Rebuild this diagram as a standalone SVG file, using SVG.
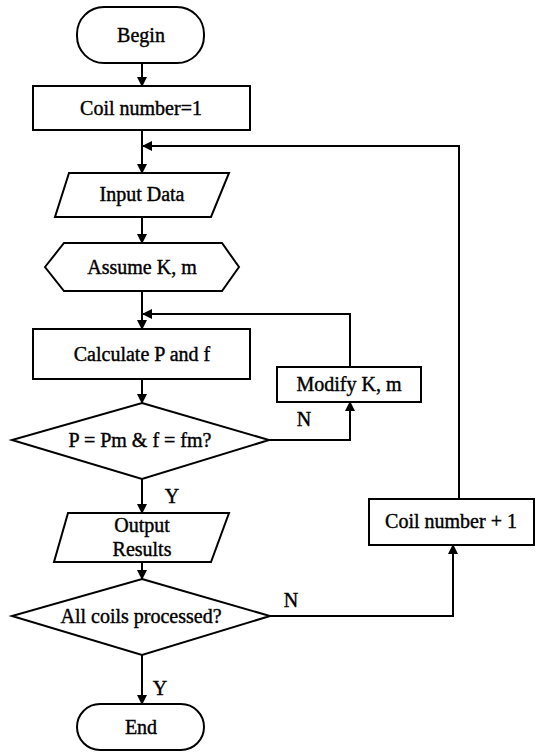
<svg xmlns="http://www.w3.org/2000/svg" width="541" height="752" viewBox="0 0 541 752">
<style>
.s{fill:#fff;stroke:#000;stroke-width:2}
.c{fill:none;stroke:#000;stroke-width:2}
text{font-family:"Liberation Serif","Times New Roman",serif;font-size:20px;fill:#000;stroke:#000;stroke-width:0.4;text-anchor:middle}
</style>
<defs>
<marker id="a" markerWidth="10" markerHeight="10" refX="9" refY="5" orient="auto" markerUnits="userSpaceOnUse">
<path d="M0,0 L10,5 L0,10 Z" fill="#000"/>
</marker>
</defs>
<rect width="541" height="752" fill="#fff"/>
<g id="connectors">
<path class="c" d="M142,63 V86" marker-end="url(#a)"/>
<path class="c" d="M142,130 V173" marker-end="url(#a)"/>
<path class="c" d="M459,498 V146 H143" marker-end="url(#a)"/>
<path class="c" d="M142,217 V243" marker-end="url(#a)"/>
<path class="c" d="M142,291 V329" marker-end="url(#a)"/>
<path class="c" d="M350,367 V314 H143" marker-end="url(#a)"/>
<path class="c" d="M142,379 V403" marker-end="url(#a)"/>
<path class="c" d="M269,440 H350 V402" marker-end="url(#a)"/>
<path class="c" d="M142,479 V513" marker-end="url(#a)"/>
<path class="c" d="M142,562 V579" marker-end="url(#a)"/>
<path class="c" d="M270,616 H453 V545" marker-end="url(#a)"/>
<path class="c" d="M142,655 V704" marker-end="url(#a)"/>
</g>
<g id="begin"><rect class="s" x="77" y="7" width="127" height="56" rx="27"/><text x="141" y="42">Begin</text></g>
<g id="coil1"><rect class="s" x="33" y="86" width="217" height="44"/><text x="141" y="115">Coil number=1</text></g>
<g id="input"><polygon class="s" points="69,173 229,173 211,217 55,217"/><text x="142" y="201">Input Data</text></g>
<g id="assume"><polygon class="s" points="45,267 64,243 222,243 239,267 222,291 64,291"/><text x="142" y="274">Assume K, m</text></g>
<g id="calc"><rect class="s" x="33" y="329" width="217" height="50"/><text x="142" y="361">Calculate P and f</text></g>
<g id="modify"><rect class="s" x="277" y="367" width="144" height="35"/><text x="349" y="391">Modify K, m</text></g>
<g id="check1"><polygon class="s" points="142,403 269,440 142,479 12,440"/><text x="140" y="447">P = Pm &amp; f = fm?</text></g>
<g id="output"><polygon class="s" points="68,513 229,513 211,562 54,562"/><text x="142" y="532">Output</text><text x="142" y="556">Results</text></g>
<g id="check2"><polygon class="s" points="142,579 270,616 142,655 12,616"/><text x="141" y="623">All coils processed?</text></g>
<g id="coilplus"><rect class="s" x="369" y="499" width="165" height="46"/><text x="451" y="528">Coil number + 1</text></g>
<g id="end"><rect class="s" x="77" y="704" width="127" height="46" rx="23"/><text x="141" y="734">End</text></g>
<g id="labels">
<text x="304" y="426">N</text>
<text x="172" y="503">Y</text>
<text x="291" y="607">N</text>
<text x="160" y="695">Y</text>
</g>
</svg>
